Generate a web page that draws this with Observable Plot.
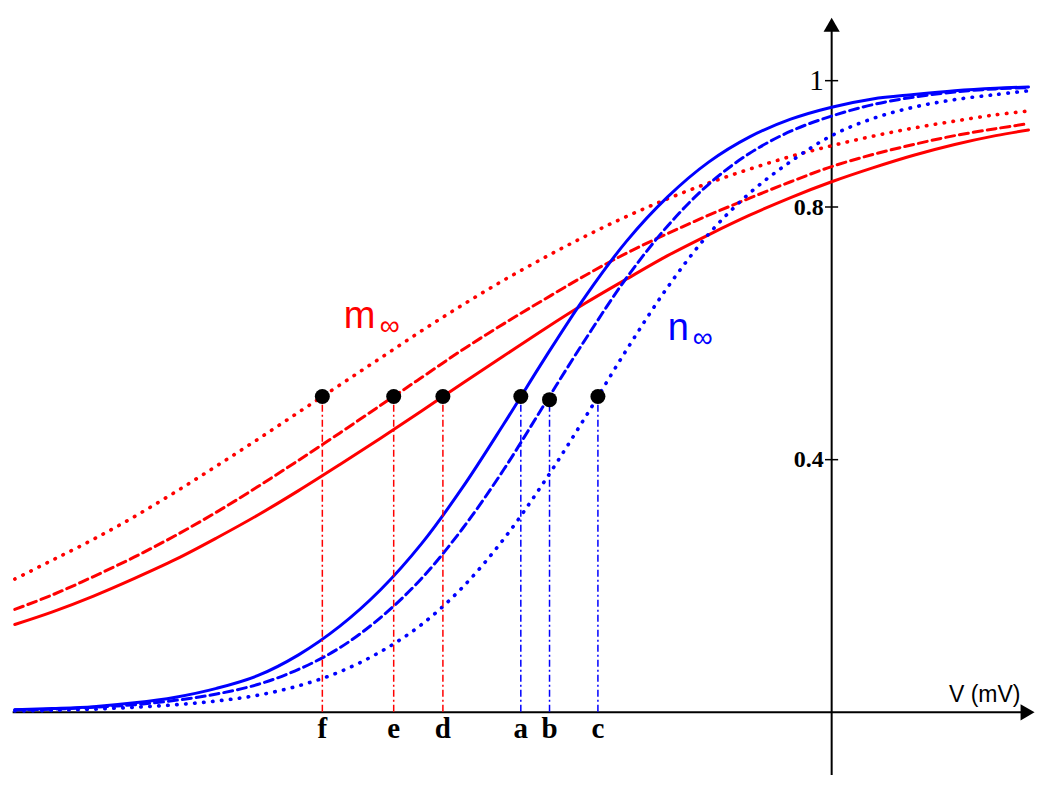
<!DOCTYPE html>
<html><head><meta charset="utf-8">
<script src="https://cdn.jsdelivr.net/npm/d3@7"></script>
<script src="https://cdn.jsdelivr.net/npm/@observablehq/plot@0.6"></script>
<style>body{margin:0;background:#fff}</style>
</head><body><div id="chart"></div>
<script>
// Membrane potential samples (mV, origin at the vertical axis)
const voltage = [-99.6, -95, -90, -85, -80, -75, -70, -65, -60, -55, -50, -45, -40, -35, -30, -25, -20, -15, -10, -5, 0, 5, 10, 15, 20, 24];
// m∞ curves (red)
const mSolid  = [0.139, 0.159, 0.184, 0.212, 0.242, 0.276, 0.312, 0.351, 0.392, 0.434, 0.477, 0.521, 0.564, 0.607, 0.648, 0.686, 0.723, 0.756, 0.787, 0.815, 0.840, 0.862, 0.882, 0.899, 0.913, 0.922];
const mDashed = [0.163, 0.186, 0.215, 0.246, 0.280, 0.317, 0.357, 0.399, 0.442, 0.486, 0.530, 0.574, 0.615, 0.654, 0.692, 0.727, 0.758, 0.787, 0.814, 0.840, 0.864, 0.883, 0.899, 0.913, 0.924, 0.932];
const mDotted = [0.211, 0.241, 0.274, 0.310, 0.349, 0.390, 0.432, 0.475, 0.518, 0.561, 0.604, 0.645, 0.684, 0.720, 0.754, 0.785, 0.813, 0.838, 0.860, 0.880, 0.897, 0.912, 0.925, 0.936, 0.946, 0.952];
// n∞ curves (blue)
const nSolid  = [0.004, 0.006, 0.009, 0.015, 0.024, 0.038, 0.058, 0.091, 0.136, 0.194, 0.267, 0.356, 0.456, 0.560, 0.659, 0.746, 0.816, 0.871, 0.911, 0.939, 0.958, 0.971, 0.978, 0.984, 0.988, 0.990];
const nDashed = [0.004, 0.005, 0.008, 0.012, 0.019, 0.029, 0.044, 0.068, 0.102, 0.150, 0.212, 0.291, 0.384, 0.488, 0.591, 0.688, 0.770, 0.836, 0.885, 0.920, 0.944, 0.962, 0.974, 0.982, 0.987, 0.989];
const nDotted = [0.002, 0.003, 0.005, 0.008, 0.012, 0.018, 0.027, 0.042, 0.064, 0.096, 0.139, 0.198, 0.274, 0.366, 0.468, 0.574, 0.673, 0.757, 0.822, 0.872, 0.913, 0.940, 0.958, 0.970, 0.978, 0.984];

// Half-activation points
const pointLabels = ["f", "e", "d", "a", "b", "c"];
const pointV      = [-62.1, -53.4, -47.4, -37.9, -34.4, -28.5];
const pointP      = [0.5, 0.5, 0.5, 0.5, 0.495, 0.5];
const pointGate   = ["m", "m", "m", "n", "n", "n"];

const yTicks = [0.4, 0.8, 1];
const yTickLabels = ["0.4", "0.8", "1"];
const axisLabel = "V (mV)";

const colors = {m: "#ff0000", n: "#0000ff"};
const lineStyles = {
  solid:  {strokeWidth: 3},
  dashed: {strokeWidth: 3, strokeDasharray: "9,5"},
  dotted: {strokeWidth: 3.6, strokeDasharray: "0.5,8.5", strokeLinecap: "round"}
};

const series = [
  {key: "d", gate: "m", style: "solid",  values: mSolid},
  {key: "e", gate: "m", style: "dashed", values: mDashed},
  {key: "f", gate: "m", style: "dotted", values: mDotted},
  {key: "a", gate: "n", style: "solid",  values: nSolid},
  {key: "b", gate: "n", style: "dashed", values: nDashed},
  {key: "c", gate: "n", style: "dotted", values: nDotted}
];
const points = pointLabels.map((l, i) => ({label: l, V: pointV[i], p: pointP[i], gate: pointGate[i]}));
const ticks = yTicks.map((t, i) => ({t, label: yTickLabels[i]}));

const lineMarks = series.map(s => Plot.line(
  voltage.map((v, i) => ({V: v, p: s.values[i]})),
  {x: "V", y: "p", stroke: colors[s.gate], ...lineStyles[s.style], curve: "catmull-rom"}
));

const chart = Plot.plot({
  width: 1050,
  height: 791,
  marginLeft: 11,
  marginRight: 22,
  marginTop: 17,
  marginBottom: 16,
  x: {domain: [-100, 24], axis: null},
  y: {domain: [-0.1, 1.1], axis: null},
  style: {background: "#fff"},
  marks: [
    // axes
    Plot.ruleY([0], {x1: -99.8, x2: 23.6, stroke: "#000", strokeWidth: 2}),
    Plot.ruleX([0], {y1: -0.1, y2: 1.085, stroke: "#000", strokeWidth: 2}),
    Plot.dot([{V: 23.6, p: 0}], {x: "V", y: "p", symbol: "triangle", r: 6, rotate: 90, fill: "#000", stroke: null}),
    Plot.dot([{V: 0, p: 1.085}], {x: "V", y: "p", symbol: "triangle", r: 6, fill: "#000", stroke: null}),
    Plot.ruleY(ticks, {y: "t", x1: -0.75, x2: 0.85, stroke: "#000", strokeWidth: 1.5}),
    Plot.text(ticks.filter(d => d.t !== 1), {y: "t", x: 0, text: "label", dx: -8, textAnchor: "end", fontFamily: "Liberation Serif", fontWeight: "bold", fontSize: 24, fill: "#000"}),
    Plot.text(ticks.filter(d => d.t === 1), {y: "t", x: 0, text: "label", dx: -8, textAnchor: "end", fontFamily: "Liberation Serif", fontSize: 29, fill: "#000"}),
    Plot.text([axisLabel], {x: 14.3, y: 0.016, text: d => d, textAnchor: "start", lineAnchor: "bottom", fontFamily: "Liberation Sans", fontSize: 23, fill: "#000"}),
    // curves
    ...lineMarks,
    // vertical dash-dot guides
    ...["m", "n"].map(g => Plot.ruleX(points.filter(d => d.gate === g), {x: "V", y1: 0, y2: "p", stroke: colors[g], strokeWidth: 1.5, strokeDasharray: "7,3,2,3"})),
    Plot.dot(points, {x: "V", y: "p", r: 7.5, fill: "#000", stroke: null}),
    Plot.text(points, {x: "V", y: 0, text: "label", dy: 16, fontFamily: "Liberation Serif", fontWeight: "bold", fontSize: 29, fill: "#000"}),
    // curve family labels
    Plot.text(["m"], {x: -59.5, y: 0.609, text: d => d, textAnchor: "start", lineAnchor: "bottom", fontFamily: "Liberation Sans", fontSize: 38, fill: colors.m}),
    Plot.text(["\u221e"], {x: -55.1, y: 0.598, text: d => d, textAnchor: "start", lineAnchor: "bottom", fontFamily: "Liberation Sans", fontSize: 28, fill: colors.m}),
    Plot.text(["n"], {x: -20.0, y: 0.589, text: d => d, textAnchor: "start", lineAnchor: "bottom", fontFamily: "Liberation Sans", fontSize: 38, fill: colors.n}),
    Plot.text(["\u221e"], {x: -16.95, y: 0.578, text: d => d, textAnchor: "start", lineAnchor: "bottom", fontFamily: "Liberation Sans", fontSize: 28, fill: colors.n})
  ]
});
document.getElementById("chart").appendChild(chart);
</script>
</body></html>
